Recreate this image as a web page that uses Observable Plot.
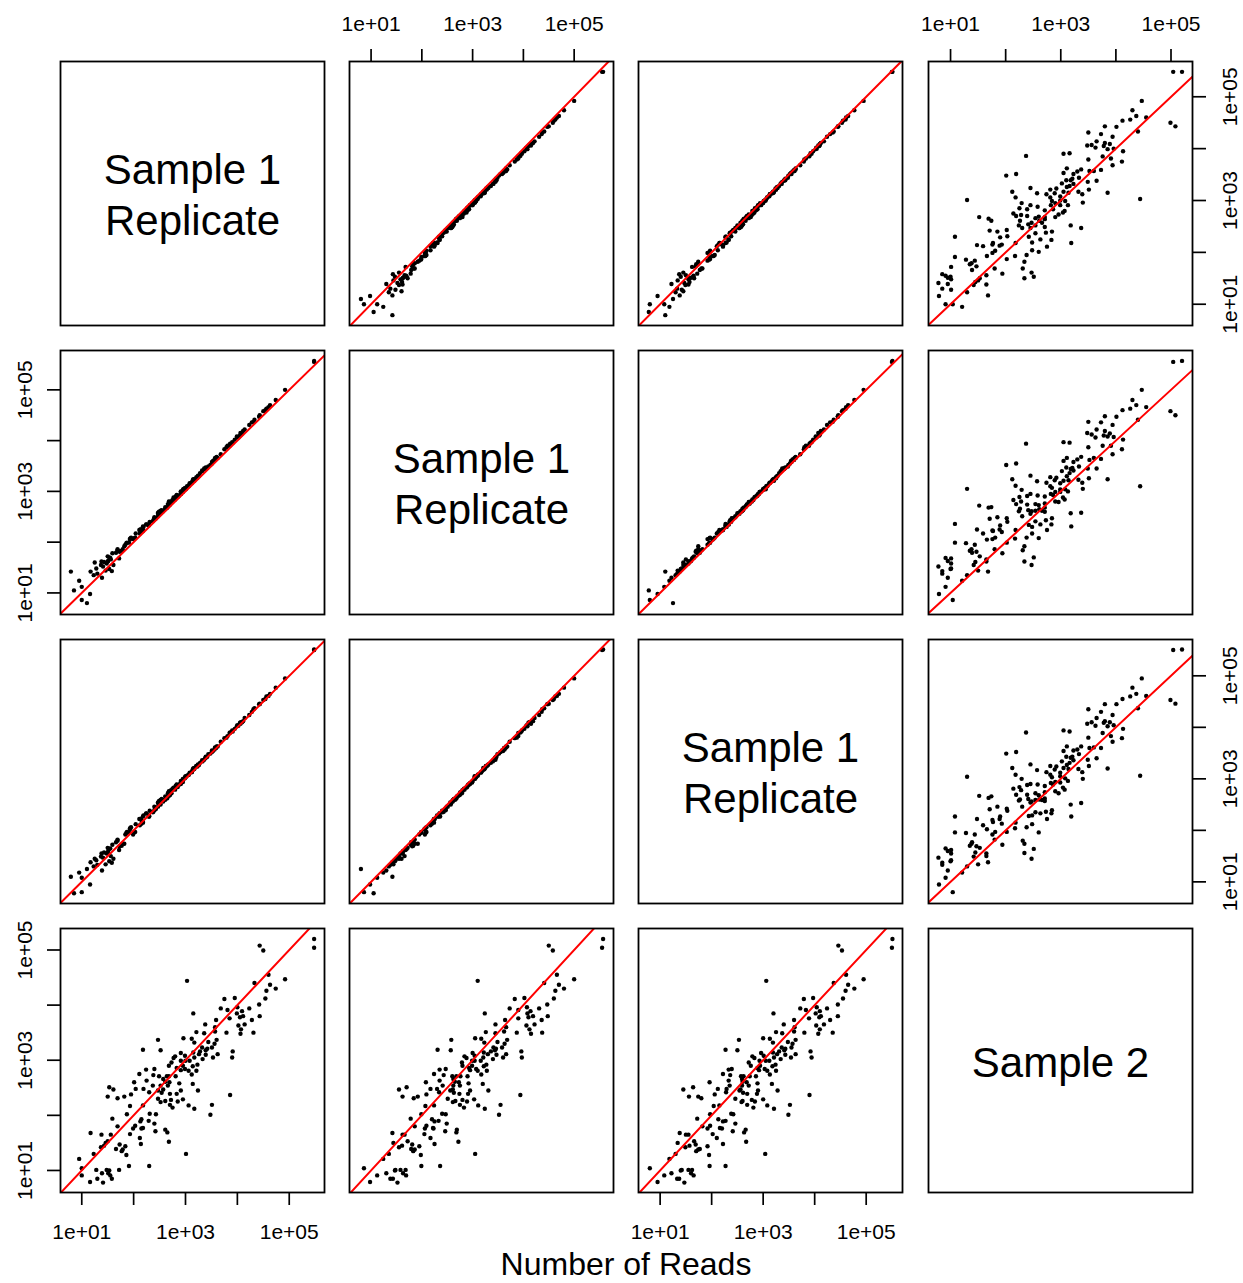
<!DOCTYPE html>
<html>
<head>
<meta charset="utf-8">
<script src="https://cdn.jsdelivr.net/npm/d3@7"></script>
<script src="https://cdn.jsdelivr.net/npm/@observablehq/plot@0.6"></script>
<style>
  html, body { margin: 0; padding: 0; background: #fff; }
  #chart { position: relative; width: 1243px; height: 1283px; font-family: "Liberation Sans", Arial, Helvetica, sans-serif; overflow: hidden; }
  #chart svg { position: absolute; }
  #xlabel { position: absolute; left: 0; width: 1252px; top: 1250px; text-align: center; font-size: 32px; line-height: 28px; color: #000; }
</style>
</head>
<body>
<div id="chart"><div id="xlabel"></div></div>
<script>
// ---- data (log10 of read counts, one entry per gene) ----
const variableNames = ["Sample 1\nReplicate", "Sample 1\nReplicate", "Sample 1\nReplicate", "Sample 2"];

const rep1Log10 = [
  5.48,5.48,4.43,4.50,3.03,4.92,4.60,4.33,4.63,4.74,
  4.56,4.54,3.75,3.95,4.42,4.23,3.68,3.81,4.00,4.09,
  3.99,4.05,4.11,3.85,4.28,4.43,3.15,3.59,4.14,4.02,
  3.57,3.38,4.07,3.79,4.31,4.06,3.21,3.36,3.57,2.96,
  3.12,3.60,2.47,3.17,3.44,3.56,3.51,3.42,3.32,2.52,
  2.18,3.39,3.28,3.91,2.91,2.80,2.77,2.99,3.15,3.26,
  3.39,3.62,3.90,3.53,3.17,2.91,3.00,3.33,3.08,2.73,
  2.68,3.23,3.14,2.95,2.83,2.91,2.99,2.40,2.24,3.06,
  3.21,3.12,2.68,2.64,2.49,2.38,2.81,2.57,2.11,2.01,
  2.25,2.61,2.66,2.88,3.14,2.69,2.52,2.37,2.19,2.04,
  2.30,2.47,2.57,2.54,2.70,2.83,2.91,3.24,1.53,1.61,
  1.95,1.82,1.69,1.50,2.47,2.52,2.61,2.72,2.85,2.95,
  2.70,2.75,3.06,3.17,3.51,3.86,3.48,1.93,2.18,2.31,
  2.43,1.87,1.59,2.15,2.13,2.29,2.40,2.03,1.69,1.99,
  2.15,2.18,1.93,2.42,2.61,2.65,1.17,1.38,1.56,1.50,
  1.46,1.43,1.37,1.73,1.66,1.79,1.84,1.77,1.86,2.12,
  2.14,2.68,1.23,0.95,1.00,1.00,1.28,1.39,1.48,1.53,
  1.51,1.72,1.91,2.30,3.01,1.16,1.30,1.41,1.58,1.55,
  0.79,1.10,0.85,1.25
];

const rep2Log10 = [
  5.57,5.55,4.50,4.58,3.10,5.00,4.66,4.41,4.70,4.80,
  4.63,4.60,3.83,4.02,4.47,4.31,3.73,3.90,4.07,4.14,
  4.08,4.10,4.19,3.90,4.36,4.48,3.24,3.64,4.22,4.06,
  3.66,3.45,4.12,3.87,4.37,4.15,3.26,3.45,3.62,3.05,
  3.17,3.68,2.58,3.23,3.49,3.63,3.58,3.46,3.41,2.57,
  2.31,3.44,3.36,3.96,3.00,2.84,2.88,3.04,3.22,3.30,
  3.47,3.66,3.97,3.60,3.21,2.99,3.04,3.40,3.16,2.79,
  2.80,3.27,3.22,2.99,2.93,2.95,3.07,2.47,2.35,3.10,
  3.28,3.17,2.76,2.68,2.60,2.43,2.90,2.62,2.24,2.08,
  2.35,2.65,2.75,2.92,3.20,2.73,2.62,2.41,2.30,2.17,
  2.34,2.56,2.61,2.63,2.74,2.91,2.95,3.31,1.70,1.55,
  2.09,1.92,1.84,1.62,2.51,2.61,2.66,2.80,2.89,3.03,
  2.75,2.83,3.11,3.24,3.55,3.94,3.52,2.07,2.24,2.40,
  2.47,1.99,1.78,2.20,2.25,2.33,2.49,2.09,1.86,2.06,
  2.23,2.22,2.05,2.46,2.69,2.68,1.42,1.62,1.66,1.72,
  1.44,1.61,1.55,1.81,1.79,1.86,1.95,1.83,1.98,2.17,
  2.25,2.72,1.35,1.24,0.86,1.12,1.48,1.30,1.58,1.47,
  1.63,1.68,1.99,2.36,3.05,0.98,1.38,1.52,1.43,1.69,
  1.42,0.80,1.05,1.60
];

const rep3Log10 = [
  5.51,5.50,4.46,4.53,3.06,4.95,4.61,4.37,4.65,4.77,
  4.60,4.55,3.79,3.97,4.45,4.24,3.72,3.83,4.04,4.10,
  4.02,4.09,4.12,3.89,4.30,4.45,3.20,3.60,4.18,4.03,
  3.61,3.40,4.10,3.80,4.35,4.07,3.25,3.37,3.60,3.00,
  3.13,3.63,2.53,3.19,3.48,3.57,3.55,3.43,3.36,2.50,
  2.27,3.41,3.31,3.92,2.96,2.79,2.83,3.01,3.19,3.27,
  3.43,3.63,3.94,3.54,3.21,2.93,3.05,3.34,3.12,2.72,
  2.76,3.24,3.18,2.94,2.89,2.92,3.03,2.39,2.33,3.08,
  3.25,3.13,2.74,2.62,2.57,2.36,2.86,2.59,2.22,1.96,
  2.33,2.60,2.72,2.89,3.17,2.68,2.59,2.35,2.29,2.12,
  2.28,2.54,2.56,2.61,2.69,2.88,2.90,3.28,1.64,1.45,
  2.06,1.74,1.80,1.56,2.46,2.58,2.60,2.78,2.84,3.00,
  2.69,2.81,3.08,3.21,3.52,3.90,3.49,2.04,2.15,2.38,
  2.42,1.97,1.72,2.13,2.22,2.27,2.46,1.97,1.82,1.92,
  2.20,2.16,2.02,2.41,2.66,2.63,1.38,1.55,1.50,1.66,
  1.34,1.57,1.49,1.69,1.77,1.74,1.92,1.70,1.95,2.10,
  2.22,2.67,1.30,1.18,0.80,1.08,1.42,1.22,1.55,1.40,
  1.60,1.62,1.96,2.27,3.04,0.95,1.33,1.47,1.37,1.65,
  1.10,1.25,0.78,1.45
];

// null = zero reads (not drawable on a log axis)
const sample2Log10 = [
  5.20,5.04,5.08,4.99,4.44,4.47,4.55,4.40,4.37,4.30,
  4.26,4.12,4.11,4.13,4.01,3.94,3.94,3.91,3.96,3.89,
  3.85,3.78,3.80,3.76,3.73,3.80,3.85,3.73,3.65,3.63,
  3.60,3.65,3.56,3.50,3.50,3.48,3.51,3.49,3.52,3.40,
  3.39,3.37,3.37,3.32,3.33,3.30,3.23,3.21,3.23,3.18,
  3.19,3.18,3.16,3.16,3.13,3.07,3.04,3.08,3.14,3.11,
  3.10,3.11,3.05,3.05,3.05,2.99,2.99,3.02,2.99,2.96,
  2.90,2.92,2.89,2.90,2.86,2.82,2.84,2.84,2.83,2.81,
  2.81,2.74,2.71,2.71,2.71,2.73,2.71,2.66,2.75,2.60,
  2.63,2.61,2.54,2.58,2.57,2.60,2.54,2.54,2.48,2.48,
  2.42,2.45,2.47,2.41,2.39,2.39,2.45,2.45,2.51,2.47,
  2.38,2.34,2.31,2.34,2.30,2.24,2.26,2.28,2.25,2.29,
  2.19,2.14,2.18,2.12,2.19,2.37,2.01,2.17,2.18,2.03,
  2.02,2.02,1.94,1.93,1.89,1.90,1.85,1.81,1.80,1.76,
  1.76,1.77,1.66,1.71,1.74,1.69,1.68,1.65,1.65,1.53,
  1.50,1.45,1.42,1.47,1.39,1.38,1.44,1.35,1.28,1.59,
  1.48,1.52,1.30,1.21,1.04,0.91,1.01,0.95,1.01,1.00,
  0.95,1.01,1.08,1.08,1.30,0.79,0.85,0.78,0.85,0.91,
  null,null,null,null
];

// axis ranges (log10)
const axisLog10Domains = [[0.59, 5.68], [0.575, 5.775], [0.58, 5.705], [0.60, 5.39]];
const tickValues = [10, 100, 1000, 10000, 100000];
const tickLabels = ["1e+01", "", "1e+03", "", "1e+05"];
const axisTitle = "Number of Reads";

// ---- build ----
const series = [rep1Log10, rep2Log10, rep3Log10, sample2Log10];
const genes = rep1Log10.map((_, k) => series.map(s => (s[k] == null ? null : 10 ** s[k])));
const labeledTicks = tickValues.map((v, k) => ({v, label: tickLabels[k]})).filter(d => d.label);

const PANEL = 264, M = 70;
const colLeft = [60, 349, 638, 928];
const rowTop = [61, 350, 639, 928];
const FONT = '"Liberation Sans", Arial, Helvetica, sans-serif';
const chart = document.getElementById("chart");
const n = series.length;

for (let i = 0; i < n; i++) {
  for (let j = 0; j < n; j++) {
    const marks = [];
    const xd = axisLog10Domains[j], yd = axisLog10Domains[i];
    if (i === j) {
      marks.push(Plot.text([variableNames[i]], {frameAnchor: "middle", text: d => d, fontSize: 42, lineHeight: 1.2, fill: "black"}));
    } else {
      marks.push(Plot.dot(genes, {x: d => d[j], y: d => d[i], r: 2.2, fill: "black", stroke: null}));
      const lo = 10 ** Math.min(xd[0], yd[0]), hi = 10 ** Math.max(xd[1], yd[1]);
      marks.push(Plot.line([[lo, lo], [hi, hi]], {x: d => d[0], y: d => d[1], stroke: "#ff0000", strokeWidth: 2, clip: true}));
    }
    const top = i === 0 && j % 2 === 1;
    const bottom = i === n - 1 && j % 2 === 0 && i !== j;
    const left = j === 0 && i % 2 === 1;
    const right = j === n - 1 && i % 2 === 0 && i !== j;
    if (top || bottom) {
      marks.push(Plot.axisX({anchor: top ? "top" : "bottom", ticks: tickValues, tickSize: 13, tickFormat: () => "", fill: "none", stroke: "black", strokeWidth: 1.7}));
      marks.push(Plot.text(labeledTicks, {x: "v", text: "label", frameAnchor: top ? "top" : "bottom", dy: top ? -37 : 40, textAnchor: "middle", lineAnchor: "middle", fontSize: 21, fill: "black"}));
    }
    if (left || right) {
      marks.push(Plot.axisY({anchor: left ? "left" : "right", ticks: tickValues, tickSize: 13, tickFormat: () => "", fill: "none", stroke: "black", strokeWidth: 1.7}));
      marks.push(Plot.text(labeledTicks, {y: "v", text: "label", frameAnchor: left ? "left" : "right", dx: left ? -35 : 38, rotate: -90, textAnchor: "middle", lineAnchor: "middle", fontSize: 21, fill: "black"}));
    }
    marks.push(Plot.frame({stroke: "black", strokeWidth: 1.8}));

    const svg = Plot.plot({
      width: PANEL + 2 * M,
      height: PANEL + 2 * M,
      marginTop: M, marginRight: M, marginBottom: M, marginLeft: M,
      x: {type: "log", domain: [10 ** xd[0], 10 ** xd[1]], axis: null},
      y: {type: "log", domain: [10 ** yd[0], 10 ** yd[1]], axis: null},
      style: {background: "transparent", overflow: "visible", fontFamily: FONT, color: "black"},
      marks
    });
    svg.style.left = (colLeft[j] - M) + "px";
    svg.style.top = (rowTop[i] - M) + "px";
    chart.appendChild(svg);
  }
}
document.getElementById("xlabel").textContent = axisTitle;
</script>
</body>
</html>
